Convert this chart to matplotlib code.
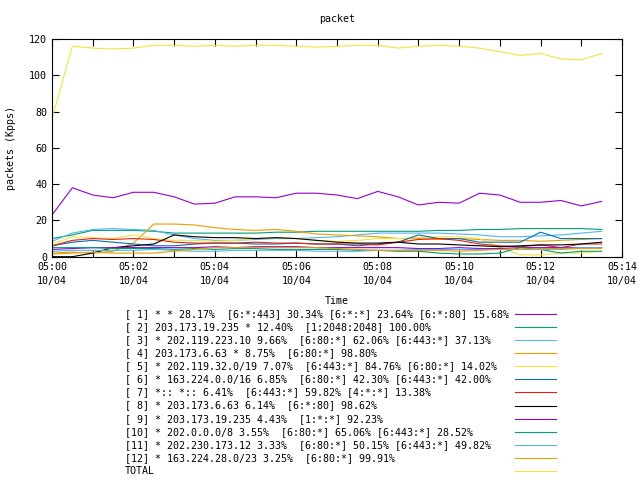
import matplotlib
matplotlib.use("Agg")
from matplotlib import pyplot as plt
from matplotlib.lines import Line2D

# sample times, minutes after 05:00 (30 s steps)
t = [i * 0.5 for i in range(28)]

labels = [
    "[ 1] * * 28.17%  [6:*:443] 30.34% [6:*:*] 23.64% [6:*:80] 15.68%",
    "[ 2] 203.173.19.235 * 12.40%  [1:2048:2048] 100.00%",
    "[ 3] * 202.119.223.10 9.66%  [6:80:*] 62.06% [6:443:*] 37.13%",
    "[ 4] 203.173.6.63 * 8.75%  [6:80:*] 98.80%",
    "[ 5] * 202.119.32.0/19 7.07%  [6:443:*] 84.76% [6:80:*] 14.02%",
    "[ 6] * 163.224.0.0/16 6.85%  [6:80:*] 42.30% [6:443:*] 42.00%",
    "[ 7] *:: *:: 6.41%  [6:443:*] 59.82% [4:*:*] 13.38%",
    "[ 8] * 203.173.6.63 6.14%  [6:*:80] 98.62%",
    "[ 9] * 203.173.19.235 4.43%  [1:*:*] 92.23%",
    "[10] * 202.0.0.0/8 3.55%  [6:80:*] 65.06% [6:443:*] 28.52%",
    "[11] * 202.230.173.12 3.33%  [6:80:*] 50.15% [6:443:*] 49.82%",
    "[12] * 163.224.28.0/23 3.25%  [6:80:*] 99.91%",
    "TOTAL",
]

s1 = [23, 38, 34, 32.5, 35.5, 35.5, 33, 29, 29.5, 33, 33, 32.5, 35, 35,
      34, 32, 36, 33, 28.5, 30, 29.5, 35, 34, 30, 30, 31, 28, 30.5]
s2 = [10, 12, 14.5, 14.5, 14.5, 14, 13, 13, 13, 13, 13, 13.5, 13.5, 14,
      14, 14, 14, 14, 14, 14.5, 14.5, 15, 15, 15.5, 15.5, 15.5, 15.5, 15]
s3 = [8.5, 13, 15, 15.5, 15, 14.5, 12, 10, 9, 9, 9.5, 10, 10, 10.5,
      11, 12, 13, 13, 13, 13, 12.5, 12, 11, 11, 11.5, 12, 13, 14]
s4 = [2, 2.5, 2, 3, 7.5, 18, 18, 17.5, 16, 15, 14.5, 15, 14, 12.5,
      12, 11.5, 11, 10, 10, 9.5, 10, 9.5, 9, 9, 8.5, 9, 9.5, 10]
s5 = [7, 11, 10.5, 10, 12, 10, 9, 9, 8.5, 9, 10, 10.5, 10, 9,
      8.5, 9, 10, 10, 10.5, 11, 11, 10, 5, 1, 1, 2, 2, 3]
s6 = [6, 8, 9, 8, 7, 6, 6, 7, 7.5, 7.5, 7, 7, 7.5, 7,
      7, 6, 7, 8, 12, 10, 10, 8, 8, 8, 13.5, 10, 10, 10]
s7 = [6, 9, 10, 9.5, 10, 9.5, 8, 7.5, 7.5, 7.5, 8, 7.5, 7.5, 7,
      7, 7, 6.5, 8, 9.5, 10, 9, 7, 6, 5.5, 6.5, 5, 7, 7]
s8 = [0, 0, 2, 5, 6, 7, 12, 11, 10.5, 10.5, 10, 10.5, 10, 9,
      8, 7.5, 7.5, 8, 7, 7, 6.5, 6, 5.5, 6, 6.5, 6.5, 7, 8]
s9 = [4, 4.5, 5, 5, 5, 5, 5, 5, 5.5, 5, 5.5, 5.5, 5.5, 5,
      5, 5, 5, 5, 4.5, 4.5, 5, 4.5, 4.5, 5, 5, 5, 5, 5]
s10 = [5, 5, 5, 4.5, 4.5, 4.5, 4, 4.5, 4, 4.5, 4.5, 4, 4, 4,
       4, 3.5, 3.5, 3, 3, 2, 1.5, 1.5, 2, 5, 4, 2, 3, 3]
s11 = [3, 3.5, 3.5, 3.5, 3.5, 4, 3.5, 3, 3, 3.5, 3.5, 3.5, 3.5, 3,
       3, 3, 3.5, 3.5, 4, 4, 4, 4, 4, 4, 4.5, 4.5, 5, 5]
s12 = [1.5, 2, 2.5, 2, 2, 2, 3, 4, 5, 5, 5, 5, 5, 5,
       4.5, 4, 3.5, 3.5, 3.5, 3.5, 3, 3.5, 4, 4, 4, 4, 4.5, 4.5]
total = [76, 116, 115, 114.5, 115, 116.5, 116.5, 116, 116.5, 116, 116.5, 116.5, 116, 115.5,
         116, 116.5, 116.5, 115, 116, 116.5, 116, 115, 113, 111, 112, 109, 108.5, 112]

series = [s1, s2, s3, s4, s5, s6, s7, s8, s9, s10, s11, s12, total]

xtick_pos = [0, 2, 4, 6, 8, 10, 12, 14]
xtick_labels = ["05:00\n10/04", "05:02\n10/04", "05:04\n10/04", "05:06\n10/04",
                "05:08\n10/04", "05:10\n10/04", "05:12\n10/04", "05:14\n10/04"]

# gnuplot default line colours
colors = ["#9400d3", "#009e73", "#56b4e9", "#e69f00", "#f0e442",
          "#0072b2", "#e51e10", "black"]

plt.rcParams['font.family'] = 'DejaVu Sans Mono'
fig = plt.figure(figsize=(6.4, 4.8), dpi=100)
ax = fig.add_axes([52/640, 1-256.7/480, 570/640, 217.7/480])

for i, s in enumerate(series):
    ax.plot(t, s, color=colors[i % 8], lw=0.8)

ax.set_xlim(0, 14)
ax.set_ylim(0, 120)
ax.set_xticks(xtick_pos)
ax.set_xticklabels(xtick_labels, fontsize=7.2, linespacing=1.6)
ax.set_xticks(range(15), minor=True)
ax.set_yticks(range(0, 121, 20))
ax.tick_params(axis='y', labelsize=7.2)
ax.tick_params(which='both', direction='in', top=True, right=True, length=5, width=0.8)
for sp in ax.spines.values():
    sp.set_linewidth(0.8)

ax.set_ylabel("packets (Kpps)", fontsize=7.2)
ax.yaxis.set_label_coords(-0.063, 0.5)
fig.text(337/640, 1-19/480, "packet", ha='center', va='center', fontsize=7.2)
fig.text(337/640, 1-301/480, "Time", ha='center', va='center', fontsize=7.2)

# legend block below the plot, gnuplot style
for i, lab in enumerate(labels):
    y = 1 - (314 + i * 13.08) / 480
    fig.text(125/640, y, lab, ha='left', va='center', fontsize=7.2)
    fig.add_artist(Line2D([515/640, 556/640], [y, y], color=colors[i % 8], lw=0.8,
                          transform=fig.transFigure))

fig.savefig("out.png", dpi=100)
